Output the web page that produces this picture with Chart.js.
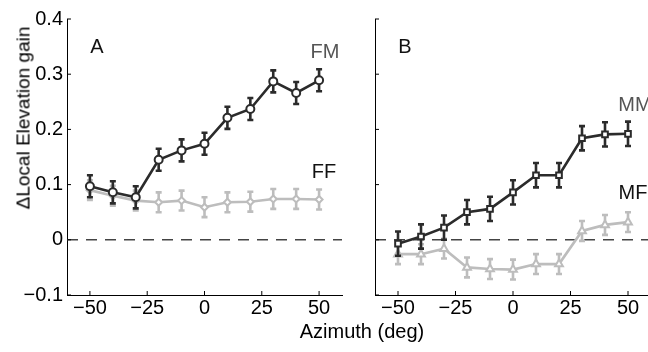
<!DOCTYPE html>
<html>
<head>
<meta charset="utf-8">
<script src="https://cdn.jsdelivr.net/npm/chart.js@4.4.1/dist/chart.umd.min.js"></script>
<style>
  body { margin: 0; width: 648px; height: 352px; overflow: hidden; background: #fff; position: relative; font-family: "Liberation Sans", Arial, sans-serif; }
  .panel { position: absolute; top: 0; height: 352px; }
  #panelA { left: 0; width: 348px; }
  #panelB { left: 348px; width: 320px; }
  .txt { position: absolute; font-size: 20px; line-height: 1; white-space: nowrap; transform: translate(-50%, -50%); }
  #ytitle { font-size: 19px; left: 23px; top: 118px; transform: translate(-50%, -50%) rotate(-90deg); }
  #xtitle { left: 362px; top: 331px; }
</style>
</head>
<body>
<div class="panel" id="panelA"><canvas id="chartA"></canvas></div>
<div class="panel" id="panelB"><canvas id="chartB"></canvas></div>
<div class="txt" id="ytitle">&Delta;Local Elevation gain</div>
<div class="txt" id="xtitle">Azimuth (deg)</div>
<div class="txt" style="left:97px;top:46px;color:#111">A</div>
<div class="txt" style="left:325px;top:51px;color:#555">FM</div>
<div class="txt" style="left:324px;top:171px;color:#111">FF</div>
<div class="txt" style="left:405px;top:46px;color:#111">B</div>
<div class="txt" style="left:635px;top:104px;color:#555">MM</div>
<div class="txt" style="left:633px;top:192px;color:#111">MF</div>
<script>
// Data
const azimuth = [-50, -40, -30, -20, -10, 0, 10, 20, 30, 40, 50];
const fmGain = [0.097, 0.086, 0.077, 0.145, 0.162, 0.174, 0.221, 0.237, 0.287, 0.266, 0.289];
const fmErr = [0.020, 0.020, 0.020, 0.020, 0.020, 0.020, 0.020, 0.020, 0.020, 0.020, 0.020];
const ffGain = [0.090, 0.080, 0.071, 0.068, 0.071, 0.059, 0.068, 0.069, 0.074, 0.074, 0.073];
const ffErr = [0.018, 0.018, 0.018, 0.018, 0.018, 0.018, 0.018, 0.018, 0.018, 0.018, 0.018];
const mmGain = [-0.007, 0.006, 0.022, 0.050, 0.056, 0.086, 0.117, 0.117, 0.184, 0.191, 0.192];
const mmErr = [0.022, 0.022, 0.022, 0.022, 0.022, 0.022, 0.022, 0.022, 0.022, 0.022, 0.022];
const mfGain = [-0.026, -0.026, -0.016, -0.050, -0.053, -0.054, -0.044, -0.044, 0.016, 0.027, 0.032];
const mfErr = [0.018, 0.018, 0.018, 0.018, 0.018, 0.018, 0.018, 0.018, 0.018, 0.018, 0.018];
const xTicks = [-50, -25, 0, 25, 50];
const yTicks = [-0.1, 0, 0.1, 0.2, 0.3, 0.4];

const dark = '#2b2b2b';
const light = '#bdbdbd';

Chart.defaults.font.family = '"Liberation Sans", Arial, sans-serif';
Chart.defaults.font.size = 20;
Chart.defaults.color = '#000';

function pts(ys) {
    return azimuth.map((x, i) => ({ x: x, y: ys[i] }));
}

function series(ys, errs, color, style, r) {
    return {
        data: pts(ys),
        errors: errs,
        borderColor: color,
        borderWidth: 2.6,
        pointStyle: style,
        pointRadius: r,
        pointBorderWidth: 2,
        pointBorderColor: color,
        pointBackgroundColor: '#fff',
        tension: 0
    };
}

function fmt(v) {
    if (v === 0) return '0';
    return v < 0 ? '\u2212' + Math.abs(v) : String(v);
}

// zero line, inward ticks, error bars
const extras = {
    id: 'extras',
    beforeDatasetsDraw(chart) {
        const ctx = chart.ctx, a = chart.chartArea;
        const xs = chart.scales.x, ys = chart.scales.y;
        ctx.save();
        ctx.strokeStyle = '#444';
        ctx.lineWidth = 1.5;
        ctx.setLineDash([11, 8]);
        const y0 = ys.getPixelForValue(0);
        ctx.beginPath();
        ctx.moveTo(a.left, y0);
        ctx.lineTo(a.right, y0);
        ctx.stroke();
        ctx.setLineDash([]);
        ctx.strokeStyle = '#000';
        ctx.lineWidth = 1;
        ys.ticks.forEach(t => {
            const p = ys.getPixelForValue(t.value);
            ctx.beginPath();
            ctx.moveTo(a.left, p);
            ctx.lineTo(a.left + 4, p);
            ctx.stroke();
        });
        xs.ticks.forEach(t => {
            const p = xs.getPixelForValue(t.value);
            ctx.beginPath();
            ctx.moveTo(p, a.bottom);
            ctx.lineTo(p, a.bottom - 4);
            ctx.stroke();
        });
        ctx.restore();
    },
    beforeDatasetDraw(chart, args) {
        const ds = chart.data.datasets[args.index];
        const ctx = chart.ctx;
        const xs = chart.scales.x, ys = chart.scales.y;
        ctx.save();
        ctx.strokeStyle = ds.borderColor;
        ctx.lineWidth = 2.6;
        ds.data.forEach((p, i) => {
            const px = xs.getPixelForValue(p.x);
            const top = ys.getPixelForValue(p.y + ds.errors[i]);
            const bot = ys.getPixelForValue(p.y - ds.errors[i]);
            ctx.beginPath();
            ctx.moveTo(px, top);
            ctx.lineTo(px, bot);
            ctx.moveTo(px - 3, top);
            ctx.lineTo(px + 3, top);
            ctx.moveTo(px - 3, bot);
            ctx.lineTo(px + 3, bot);
            ctx.stroke();
        });
        ctx.restore();
    }
};

function makeChart(id, datasets, yWidth, rightPad, showY) {
    return new Chart(document.getElementById(id), {
        type: 'line',
        data: { datasets: datasets },
        options: {
            responsive: true,
            maintainAspectRatio: false,
            animation: false,
            events: [],
            layout: { padding: { top: 19, right: rightPad, left: 0, bottom: 0 } },
            plugins: { legend: { display: false }, tooltip: { enabled: false } },
            scales: {
                x: {
                    type: 'linear',
                    min: -60,
                    max: 60,
                    afterBuildTicks: s => { s.ticks = xTicks.map(v => ({ value: v })); },
                    afterFit: s => { s.height = 57; },
                    grid: { display: false, drawTicks: false },
                    border: { display: true, color: '#000', width: 1 },
                    ticks: { padding: 1, callback: v => fmt(v), maxRotation: 0 }
                },
                y: {
                    min: -0.1,
                    max: 0.4,
                    afterBuildTicks: s => { s.ticks = yTicks.map(v => ({ value: v })); },
                    afterFit: s => { s.width = yWidth; },
                    grid: { display: false, drawTicks: false },
                    border: { display: true, color: '#000', width: 1 },
                    ticks: { display: showY, padding: 4, callback: v => fmt(Math.round(v * 10) / 10) }
                }
            }
        },
        plugins: [extras]
    });
}

makeChart('chartA', [
    series(fmGain, fmErr, dark, 'circle', 4),
    series(ffGain, ffErr, light, 'rectRot', 3.5)
], 67, 5, true);

makeChart('chartB', [
    series(mmGain, mmErr, dark, 'rect', 4),
    series(mfGain, mfErr, light, 'triangle', 4.5)
], 27, 17, false);
</script>
</body>
</html>
